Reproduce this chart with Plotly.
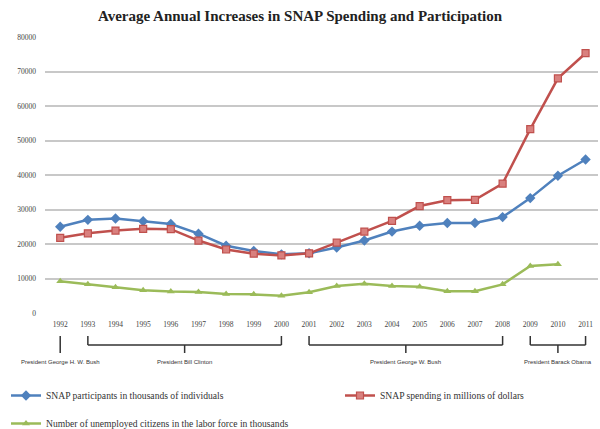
import plotly.graph_objects as go

years = list(range(1992, 2012))
participants = [25000, 27000, 27400, 26600, 25800, 23000, 19500, 18000, 17000, 17300,
                19000, 21000, 23600, 25300, 26100, 26100, 27800, 33300, 39800, 44500]
spending = [21800, 23100, 23900, 24400, 24300, 21000, 18400, 17200, 16700, 17300,
            20400, 23600, 26700, 31000, 32700, 32800, 37500, 53300, 68000, 75300]
unemployed = [9200, 8300, 7500, 6600, 6200, 6100, 5500, 5400, 5000, 6000,
              7800, 8500, 7800, 7600, 6300, 6300, 8300, 13600, 14100, None]

ytick_vals = [0, 10000, 20000, 30000, 40000, 50000, 60000, 70000, 80000]

presidents = [
    ("President George H. W. Bush", 1992, 1992),
    ("President Bill Clinton", 1993, 2000),
    ("President George W. Bush", 2001, 2008),
    ("President Barack Obama", 2009, 2011),
]

names = ["SNAP participants in thousands of individuals",
         "SNAP spending in millions of dollars",
         "Number of unemployed citizens in the labor force in thousands"]

PLOT_TOP, PLOT_BOTTOM = 37, 313
H = PLOT_BOTTOM - PLOT_TOP


def py(ypix):
    return (PLOT_BOTTOM - ypix) / H


fig = go.Figure()
fig.add_trace(go.Scatter(x=years, y=participants, name=names[0], mode="lines+markers",
                         line=dict(color="#4f81bd", width=2.5),
                         marker=dict(symbol="diamond", size=8, color="#4f81bd"),
                         legend="legend", showlegend=True))
fig.add_trace(go.Scatter(x=years, y=spending, name=names[1], mode="lines+markers",
                         line=dict(color="#c0504d", width=2.5),
                         marker=dict(symbol="square", size=7, color="#d9807e",
                                     line=dict(color="#c0504d", width=1.2)),
                         legend="legend3", showlegend=True))
fig.add_trace(go.Scatter(x=years, y=unemployed, name=names[2], mode="lines+markers",
                         line=dict(color="#9bbb59", width=2.5),
                         marker=dict(symbol="triangle-up", size=7, color="#9bbb59"),
                         legend="legend2", showlegend=True))

shapes = []
annotations = []
lc = dict(color="#333333", width=1.5)
for label, a, b in presidents:
    mid = (a + b) / 2
    if a == b:
        shapes.append(dict(type="line", xref="x", yref="paper", x0=a, x1=a,
                           y0=py(336), y1=py(353), line=lc))
    else:
        shapes.append(dict(type="line", xref="x", yref="paper", x0=a, x1=a,
                           y0=py(336), y1=py(345), line=lc))
        shapes.append(dict(type="line", xref="x", yref="paper", x0=b, x1=b,
                           y0=py(336), y1=py(345), line=lc))
        shapes.append(dict(type="line", xref="x", yref="paper", x0=a, x1=b,
                           y0=py(345), y1=py(345), line=lc))
        shapes.append(dict(type="line", xref="x", yref="paper", x0=mid, x1=mid,
                           y0=py(345), y1=py(353), line=lc))
    annotations.append(dict(text=label, x=mid, xref="x", y=py(362), yref="paper",
                            showarrow=False, yanchor="middle", xanchor="center",
                            font=dict(family="Liberation Sans Narrow, Liberation Sans", size=6, color="#333333")))

legend_font = dict(family="Liberation Serif", size=9.6, color="#333333")


def leg(xpix, ytop):
    return dict(orientation="h", xref="container", yref="container",
                x=xpix / 600, y=1 - ytop / 429, yanchor="top", xanchor="left",
                itemwidth=30, font=legend_font, bgcolor="rgba(0,0,0,0)", visible=True)


fig.update_layout(
    width=600, height=429, showlegend=True,
    margin=dict(l=45, r=2, t=PLOT_TOP, b=429 - PLOT_BOTTOM),
    paper_bgcolor="white", plot_bgcolor="white",
    title=dict(text="<b>Average Annual Increases in SNAP Spending and Participation</b>",
               x=0.5, xanchor="center", y=1 - 16 / 429, yanchor="middle",
               font=dict(family="Liberation Serif", size=15, color="#222222")),
    xaxis=dict(range=[1991.45, 2011.45], tickmode="array", tickvals=years,
               ticktext=[str(y) for y in years], showgrid=False, zeroline=False,
               showline=False, ticks="", ticklabelstandoff=5,
               tickfont=dict(family="Liberation Serif", size=7.5, color="#444444")),
    yaxis=dict(range=[0, 80000], tickmode="array", tickvals=ytick_vals,
               ticktext=[str(v) for v in ytick_vals], showgrid=True,
               gridcolor="#c8c8c8", gridwidth=1.5, zeroline=False, ticks="",
               ticklabelstandoff=8,
               tickfont=dict(family="Liberation Serif", size=7.5, color="#444444")),
    shapes=shapes, annotations=annotations,
    legend=leg(6, 381),
    legend3=leg(340, 381),
    legend2=leg(6, 409),
)

fig.write_html("out.html")
